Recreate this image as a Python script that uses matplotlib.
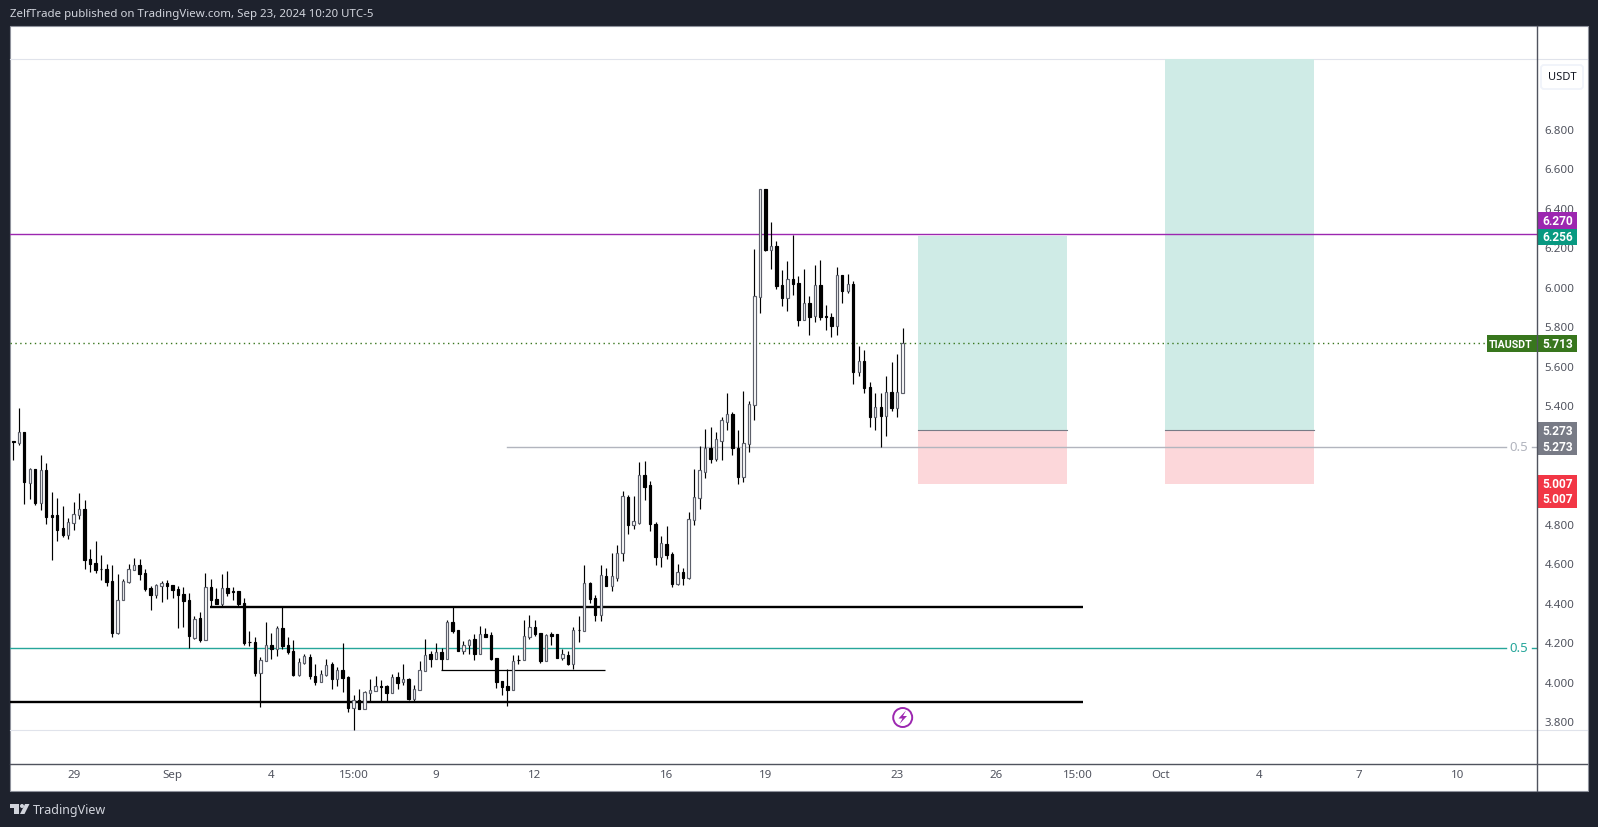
# TIAUSDT 4h candles, TradingView snapshot
import matplotlib
matplotlib.use('Agg')
import matplotlib.pyplot as plt
from matplotlib.patches import Rectangle, FancyBboxPatch, Polygon, Circle

plt.rcParams['font.family'] = ['Noto Sans', 'DejaVu Sans']

opens = [5.218, 5.208, 5.267, 5.005, 5.075, 4.907, 5.070, 4.842, 4.842, 4.776,
         4.745, 4.806, 4.842, 4.872, 4.619, 4.603, 4.573, 4.568, 4.512, 4.244,
         4.413, 4.507, 4.565, 4.593, 4.548, 4.472, 4.441, 4.482, 4.502, 4.487,
         4.467, 4.446, 4.411, 4.222, 4.320, 4.213, 4.477, 4.421, 4.391, 4.472,
         4.457, 4.457, 4.396, 4.203, 4.203, 4.046, 4.104, 4.188, 4.163, 4.274,
         4.183, 4.153, 4.036, 4.092, 4.127, 4.031, 3.996, 4.036, 4.087, 4.011,
         4.061, 4.021, 3.864, 3.909, 3.859, 3.940, 3.955, 3.980, 3.980, 3.940,
         4.021, 3.996, 4.011, 3.914, 3.960, 4.056, 4.142, 4.117, 4.148, 4.117,
         4.300, 4.259, 4.153, 4.183, 4.218, 4.142, 4.239, 4.234, 4.122, 4.001,
         3.980, 3.960, 4.112, 4.107, 4.224, 4.279, 4.244, 4.102, 4.239, 4.239,
         4.122, 4.137, 4.087, 4.264, 4.254, 4.502, 4.426, 4.335, 4.533, 4.482,
         4.527, 4.651, 4.933, 4.791, 4.806, 5.049, 4.994, 4.796, 4.629, 4.695,
         4.644, 4.492, 4.553, 4.527, 4.821, 4.928, 5.064, 5.181, 5.130, 5.221,
         5.313, 5.358, 5.186, 5.039, 5.206, 5.399, 5.946, 6.498, 6.189, 6.209,
         6.007, 5.941, 6.042, 6.017, 5.834, 5.916, 5.850, 6.007, 5.850, 5.845,
         5.799, 6.062, 5.981, 6.012, 5.571, 5.622, 5.490, 5.338, 5.389, 5.348,
         5.465, 5.384, 5.461]
closes = [5.215, 5.265, 5.010, 5.075, 4.907, 5.070, 4.836, 4.836, 4.766, 4.745,
          4.809, 4.847, 4.872, 4.614, 4.598, 4.563, 4.568, 4.507, 4.244, 4.416,
          4.512, 4.571, 4.593, 4.543, 4.467, 4.441, 4.487, 4.502, 4.482, 4.462,
          4.441, 4.406, 4.229, 4.315, 4.213, 4.477, 4.416, 4.391, 4.472, 4.451,
          4.453, 4.391, 4.198, 4.200, 4.046, 4.107, 4.188, 4.163, 4.274, 4.178,
          4.148, 4.036, 4.097, 4.132, 4.026, 3.996, 4.041, 4.082, 4.011, 4.061,
          4.016, 3.864, 3.909, 3.859, 3.945, 3.960, 3.980, 3.975, 3.940, 4.021,
          3.991, 4.011, 3.914, 3.965, 4.061, 4.137, 4.117, 4.148, 4.117, 4.300,
          4.254, 4.153, 4.188, 4.213, 4.142, 4.239, 4.224, 4.117, 3.996, 3.975,
          3.960, 4.102, 4.109, 4.229, 4.279, 4.239, 4.102, 4.234, 4.229, 4.122,
          4.142, 4.087, 4.264, 4.261, 4.502, 4.421, 4.335, 4.538, 4.482, 4.533,
          4.654, 4.938, 4.791, 4.816, 5.049, 4.988, 4.796, 4.629, 4.700, 4.639,
          4.492, 4.553, 4.527, 4.826, 4.933, 5.070, 5.181, 5.130, 5.227, 5.323,
          5.358, 5.181, 5.039, 5.211, 5.404, 5.951, 6.498, 6.189, 6.209, 6.002,
          5.941, 6.042, 6.012, 5.834, 5.916, 5.845, 6.007, 5.845, 5.845, 5.799,
          6.062, 5.981, 6.012, 5.571, 5.622, 5.485, 5.338, 5.389, 5.348, 5.465,
          5.384, 5.465, 5.713]
highs = [5.220, 5.384, 5.267, 5.080, 5.075, 5.146, 5.105, 4.963, 4.928, 4.892,
         4.831, 4.912, 4.958, 4.918, 4.674, 4.710, 4.639, 4.598, 4.593, 4.543,
         4.522, 4.598, 4.624, 4.619, 4.573, 4.482, 4.497, 4.512, 4.517, 4.487,
         4.482, 4.477, 4.451, 4.330, 4.355, 4.548, 4.522, 4.472, 4.543, 4.558,
         4.477, 4.457, 4.426, 4.254, 4.224, 4.127, 4.300, 4.244, 4.284, 4.376,
         4.224, 4.213, 4.122, 4.142, 4.142, 4.087, 4.061, 4.117, 4.097, 4.072,
         4.198, 4.026, 3.930, 3.965, 3.950, 4.011, 4.031, 4.006, 3.985, 4.041,
         4.051, 4.087, 4.016, 3.985, 4.102, 4.218, 4.153, 4.198, 4.168, 4.310,
         4.377, 4.259, 4.208, 4.218, 4.239, 4.284, 4.274, 4.249, 4.122, 4.001,
         4.066, 4.137, 4.137, 4.310, 4.335, 4.310, 4.244, 4.239, 4.249, 4.239,
         4.163, 4.153, 4.279, 4.330, 4.593, 4.507, 4.441, 4.593, 4.578, 4.654,
         4.690, 4.968, 4.943, 4.938, 5.115, 5.120, 5.014, 4.811, 4.740, 4.786,
         4.659, 4.598, 4.578, 4.857, 5.075, 5.196, 5.282, 5.292, 5.267, 5.343,
         5.460, 5.368, 5.277, 5.470, 5.424, 6.194, 6.498, 6.498, 6.326, 6.230,
         6.083, 6.133, 6.260, 6.057, 6.088, 5.956, 6.113, 6.138, 5.910, 5.865,
         6.098, 6.062, 6.067, 6.032, 5.698, 5.682, 5.520, 5.460, 5.460, 5.546,
         5.617, 5.662, 5.789]
lows = [5.125, 5.198, 4.902, 4.923, 4.897, 4.867, 4.801, 4.614, 4.710, 4.735,
        4.720, 4.766, 4.826, 4.573, 4.553, 4.548, 4.517, 4.482, 4.224, 4.239,
        4.413, 4.502, 4.565, 4.517, 4.457, 4.365, 4.426, 4.401, 4.421, 4.426,
        4.274, 4.279, 4.168, 4.218, 4.203, 4.213, 4.376, 4.391, 4.381, 4.436,
        4.416, 4.376, 4.188, 4.178, 4.031, 3.869, 4.102, 4.117, 4.132, 4.163,
        4.142, 4.031, 4.031, 4.087, 4.011, 3.985, 3.996, 4.026, 3.965, 3.980,
        3.945, 3.844, 3.757, 3.859, 3.859, 3.899, 3.950, 3.899, 3.899, 3.940,
        3.965, 3.985, 3.909, 3.899, 3.960, 4.056, 4.072, 4.117, 4.060, 4.117,
        4.244, 4.153, 4.142, 4.142, 4.107, 4.142, 4.224, 4.107, 3.970, 3.930,
        3.879, 3.960, 4.087, 4.107, 4.218, 4.229, 4.092, 4.102, 4.188, 4.122,
        4.107, 4.082, 4.066, 4.203, 4.254, 4.396, 4.305, 4.306, 4.482, 4.457,
        4.512, 4.609, 4.750, 4.771, 4.801, 4.918, 4.761, 4.593, 4.583, 4.619,
        4.477, 4.487, 4.487, 4.522, 4.791, 4.872, 5.034, 5.110, 5.120, 5.125,
        5.277, 5.146, 4.999, 5.009, 5.161, 5.323, 5.865, 6.179, 6.088, 5.991,
        5.905, 5.875, 5.961, 5.804, 5.834, 5.758, 5.824, 5.834, 5.779, 5.748,
        5.758, 5.916, 5.971, 5.510, 5.546, 5.460, 5.292, 5.277, 5.191, 5.242,
        5.373, 5.343, 5.461]

price_ticks = [6.8, 6.6, 6.4, 6.2, 6.0, 5.8, 5.6, 5.4, 4.8, 4.6, 4.4, 4.2, 4.0, 3.8]
time_ticks = [11, 29, 47, 62, 77, 95, 119, 137, 161, 179, 194, 209, 227, 245, 263]
time_labels = ['29', 'Sep', '4', '15:00', '9', '12', '16', '19', '23', '26', '15:00',
               'Oct', '4', '7', '10']

resistance = 4.378
support = 3.899
mid_range = 4.06
fib_upper = 5.191
fib_lower = 4.171
purple_level = 6.27
last_price = 5.713
target = 6.256
entry = 5.273
stop = 5.007
stop_edge = 5.003   # bottom edge of the red boxes as drawn

W, H = 1598, 828
DARK = '#1e222d'
TXT = '#50535e'
BAR_X0, BAR_DX = 13.3, 5.49   # pixel of first candle, pixels per candle
TOP, BOT = 60.0, 765.0
PY0 = 129.9    # pixel of price 6.8
PPU = 197.4    # pixels per unit of price
LABEL_FONT = ['Roboto', 'DejaVu Sans']
def px2i(x):
    return (x - BAR_X0) / BAR_DX

fig = plt.figure(figsize=(W / 100, H / 100), dpi=100, facecolor=DARK)

# background layer, pixel coordinates
bg = fig.add_axes([0, 0, 1, 1], zorder=0)
bg.set_xlim(0, W)
bg.set_ylim(H, 0)
bg.axis('off')
bg.add_patch(Rectangle((10, 27), 1578, 765.3, fc='white', ec='#8f929c', lw=0.8))
bg.plot([10, 1587], [60, 60], color='#e0e3eb', lw=0.8)
bg.plot([10, 1587], [731, 731], color='#e0e3eb', lw=0.8)

# main price pane
ax = fig.add_axes([10 / W, 1 - BOT / H, (1537 - 10) / W, (BOT - TOP) / H], zorder=1)
ax.patch.set_alpha(0)
ax.set_xlim(px2i(10), px2i(1537))
ax.set_ylim(6.8 - (BOT - PY0) / PPU, 6.8 + (PY0 - TOP) / PPU)
for s in ax.spines.values():
    s.set_visible(False)

ax.yaxis.tick_right()
ax.set_yticks(price_ticks)
ax.set_yticklabels(['%.3f' % p for p in price_ticks])
ax.tick_params(axis='y', length=0, pad=5.5, labelsize=8.3, labelcolor=TXT)
ax.set_xticks(time_ticks)
ax.set_xticklabels(time_labels)
ax.tick_params(axis='x', length=0, pad=3.5, labelsize=8.3, labelcolor=TXT)

# long position boxes
for left, right, top in [(164.8, 191.9, target), (209.8, 236.9, 7.4)]:
    ax.add_patch(Rectangle((left, entry), right - left, top - entry, fc='#cfebe6', ec='none', zorder=1))
    ax.add_patch(Rectangle((left, stop_edge), right - left, entry - stop_edge, fc='#fcd7da', ec='none', zorder=1))
    ax.plot([left, right], [entry, entry], color='#787b86', lw=0.8, zorder=2)

# levels
ax.axhline(purple_level, color='#9c27b0', lw=1.0, zorder=2)
ax.axhline(last_price, color='#38761d', lw=1.0, ls=(0, (1, 2.5)), zorder=2)
ax.plot([px2i(506.5), px2i(1505.7)], [fib_upper, fib_upper], color='#b2b5be', lw=1.0, zorder=2)
ax.plot([px2i(1531.7), px2i(1537)], [fib_upper, fib_upper], color='#b2b5be', lw=1.0, zorder=2)
ax.plot([px2i(10), px2i(1505.7)], [fib_lower, fib_lower], color='#26a69a', lw=1.0, zorder=2)
ax.plot([px2i(1531.7), px2i(1537)], [fib_lower, fib_lower], color='#26a69a', lw=1.0, zorder=2)
ax.text(px2i(1519), fib_upper, '0.5', color='#b2b5be', fontsize=9.5, ha='center', va='center')
ax.text(px2i(1519), fib_lower, '0.5', color='#26a69a', fontsize=9.5, ha='center', va='center')
ax.plot([px2i(210), px2i(1083)], [resistance, resistance], color='black', lw=1.7, zorder=2,
        solid_capstyle='butt')
ax.plot([px2i(10), px2i(1083)], [support, support], color='black', lw=1.7, zorder=2,
        solid_capstyle='butt')
ax.plot([px2i(441), px2i(605)], [mid_range, mid_range], color='black', lw=0.9, zorder=2,
        solid_capstyle='butt')

# candles
x = list(range(len(opens)))
ax.vlines(x, lows, highs, color='black', lw=0.85, zorder=3)
for i in x:
    up = closes[i] > opens[i]
    lo = min(opens[i], closes[i])
    hi = max(opens[i], closes[i])
    ax.bar(i, hi - lo, bottom=lo, width=0.44,
           color='white' if up else 'black',
           edgecolor='#5d606b' if up else 'black', linewidth=0.85, zorder=4)

# foreground layer: axis lines, price labels, logo
fg = fig.add_axes([0, 0, 1, 1], zorder=2)
fg.set_xlim(0, W)
fg.set_ylim(H, 0)
fg.axis('off')
fg.patch.set_alpha(0)

def price_box(x0, x1, y0, y1, color, labels):
    fg.add_patch(Rectangle((x0, y0), x1 - x0, y1 - y0, fc=color, ec='none', zorder=1))
    for lx, ly, s in labels:
        fg.text(lx, ly, s, color='white', fontsize=7.6 if s == 'TIAUSDT' else 8.6,
                fontweight='bold', family=LABEL_FONT, ha='center', va='center', zorder=3)

price_box(1537, 1577, 213, 230, '#9c27b0', [(1558, 222, '%.3f' % purple_level)])
price_box(1537, 1577, 230, 246, '#089981', [(1558, 238, '%.3f' % target)])
price_box(1487, 1577, 336, 353, '#38761d', [(1511, 345, 'TIAUSDT'), (1558, 345, '%.3f' % last_price)])
price_box(1537, 1577, 423, 456, '#787b86', [(1558, 432, '%.3f' % entry), (1558, 448, '%.3f' % entry)])
price_box(1537, 1577, 476, 509, '#f23645', [(1558, 485, '%.3f' % stop), (1558, 500, '%.3f' % stop)])

fg.plot([1537, 1537], [27, 792], color=TXT, lw=1.0, zorder=2)
fg.plot([10, 1587], [765, 765], color=TXT, lw=1.0, zorder=2)

fg.add_patch(FancyBboxPatch((1541, 66), 42, 24, boxstyle='round,pad=0,rounding_size=3',
                            fc='white', ec='#f0f3fa', lw=1.3))
fg.text(1562, 78, 'USDT', color='#131722', fontsize=8, ha='center', va='center')

# lightning event mark
fg.add_patch(Circle((902.7, 718.5), 9.5, fc='white', ec='#9c27b0', lw=1.4))
fg.add_patch(Polygon([(906, 711.5), (898.5, 719.5), (902.5, 719.5), (899.5, 725),
                      (907, 717), (903, 717)], fc='#9c27b0', ec='none'))

# header and footer
fg.text(10, 15, 'ZelfTrade published on TradingView.com, Sep 23, 2024 10:20 UTC-5',
        color='#d1d4dc', fontsize=8.25, ha='left', va='center')
fg.add_patch(Polygon([(10, 805), (19, 805), (19, 815), (14, 815), (14, 809), (10, 809)],
                     fc='#d1d4dc', ec='none'))
fg.add_patch(Circle((22, 807), 2, fc='#d1d4dc', ec='none'))
fg.add_patch(Polygon([(20, 815), (24.5, 815), (29.5, 805), (25, 805)], fc='#d1d4dc', ec='none'))
fg.text(33, 811, 'TradingView', color='#d1d4dc', fontsize=9, ha='left', va='center')

plt.savefig('out.png', dpi=100, facecolor=DARK)
